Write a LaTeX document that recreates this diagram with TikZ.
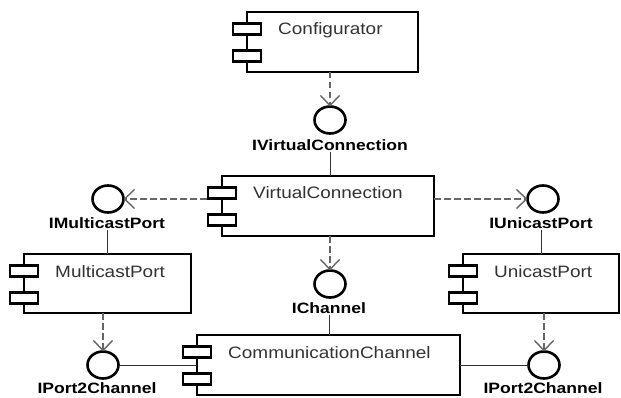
\documentclass[tikz,border=0pt]{standalone}
\usepackage{fontspec}
\usetikzlibrary{arrows.meta,shapes.geometric}
\newfontfamily\regf[FakeStretch=1.15]{Liberation Sans}
\newfontfamily\labf[FakeStretch=1.17]{Liberation Sans}
\tikzset{
  compbox/.style={draw, line width=2.8pt, inner sep=0pt, outer sep=0pt, anchor=north west},
  partbox/.style={draw, fill=white, line width=2.6pt, inner sep=0pt, minimum width=28pt, minimum height=11pt},
  comptext/.style={anchor=base west, inner sep=0pt, font=\regf\fontsize{16.5}{18}\selectfont, text=black!80},
  iface/.style={draw, ellipse, line width=2.6pt, inner sep=0pt, outer sep=0pt, minimum width=31pt, minimum height=27pt},
  ilabel/.style={inner sep=1pt, font=\labf\bfseries\fontsize{15}{17}\selectfont},
  dep/.style={draw=black!60, line width=1.4pt, dash pattern=on 6.5pt off 3.5pt,
    -{Straight Barb[length=10pt,width=19pt,line width=1.4pt]}},
  link/.style={draw=black!80, line width=1pt},
}
\newcommand\mkcomp[6]{%
  \node[compbox, minimum width=#4pt, minimum height=#5pt] (#1) at (#2,#3) {};
  \node[partbox] (#1-p1) at ([yshift=-17pt]#1.north west) {};
  \node[partbox] (#1-p2) at ([yshift=-44pt]#1.north west) {};
  \node[comptext] (#1-t) at ([xshift=31pt,yshift=-23pt]#1.north west) {#6};
}
\begin{document}
\begin{tikzpicture}[x=1pt,y=-1pt]
\useasboundingbox (0,0) rectangle (621,398);
\fill[white] (0,0) rectangle (621,398);
% components
\mkcomp{conf}{247}{12}{171}{60}{Configurator}
\mkcomp{vc}{222}{176}{212}{60}{VirtualConnection}
\mkcomp{mp}{24}{254}{167}{59}{MulticastPort}
\mkcomp{up}{463}{254}{156}{59}{UnicastPort}
\mkcomp{cc}{197}{335}{263}{60}{CommunicationChannel}
% interfaces
\node[iface] (ivc) at (330,120) {};
\node[ilabel] (ivcl) at (330,145) {IVirtualConnection};
\node[iface] (imp) at (108,199) {};
\node[ilabel] (impl) at (107,223) {IMulticastPort};
\node[iface] (iup) at (543,199) {};
\node[ilabel] (iupl) at (541,223) {IUnicastPort};
\node[iface] (ich) at (330,284) {};
\node[ilabel] (ichl) at (329,308) {IChannel};
\node[iface] (ipl) at (103,365) {};
\node[ilabel] (ipll) at (97,388) {IPort2Channel};
\node[iface] (ipr) at (544,365) {};
\node[ilabel] (iprl) at (543,388) {IPort2Channel};
% dependencies
\draw[dep] (ivc.north |- conf.south) -- (ivc.north);
\draw[dep] (vc-p1.west |- imp.east) -- (imp.east);
\draw[dep] (iup.west -| vc.east) -- (iup.west);
\draw[dep] (ich.north |- vc.south) -- (ich.north);
\draw[dep] (ipl.north |- mp.south) -- (ipl.north);
\draw[dep] (ipr.north |- up.south) -- (ipr.north);
% realizations
\draw[link] (ivcl.south) -- (ivcl.south |- vc.north);
\draw[link] (impl.south) -- (impl.south |- mp.north);
\draw[link] (iupl.south) -- (iupl.south |- up.north);
\draw[link] (ichl.south) -- (ichl.south |- cc.north);
\draw[link] (ipl.east) -- (ipl.east -| cc.west);
\draw[link] (cc.east |- ipr.west) -- (ipr.west);
\end{tikzpicture}
\end{document}
